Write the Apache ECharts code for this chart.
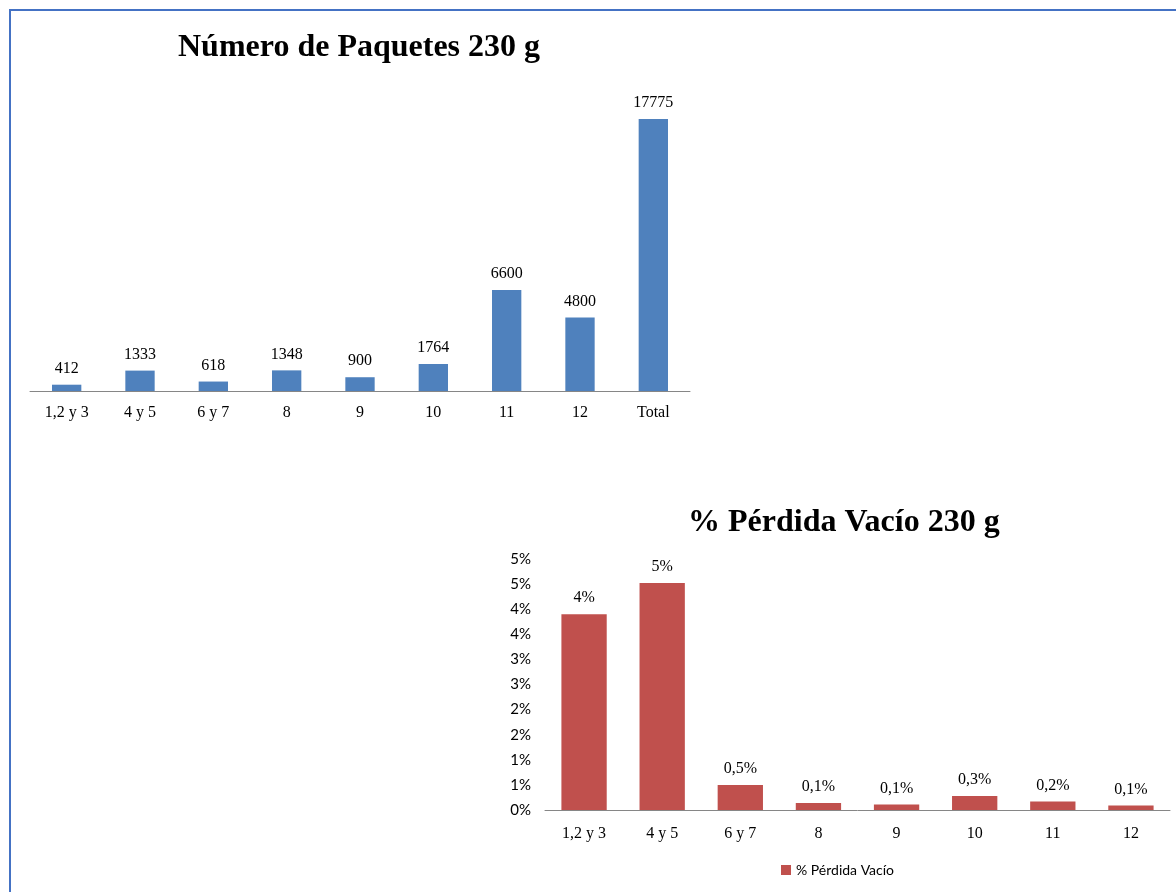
<!DOCTYPE html>
<html>
<head>
<meta charset="utf-8">
<script src="https://cdn.jsdelivr.net/npm/echarts@6/dist/echarts.min.js"></script>
<style>
  html, body { margin: 0; padding: 0; background: #fff; }
  #main { width: 1176px; height: 892px; }
</style>
</head>
<body>
<div id="main"></div>
<script>
// datos
var packCategories = ['1,2 y 3', '4 y 5', '6 y 7', '8', '9', '10', '11', '12', 'Total'];
var packValues = [412, 1333, 618, 1348, 900, 1764, 6600, 4800, 17775];

var lossCategories = ['1,2 y 3', '4 y 5', '6 y 7', '8', '9', '10', '11', '12'];
var lossValues = [3.9, 4.52, 0.5, 0.14, 0.11, 0.28, 0.17, 0.09];   // en %
var lossLabels = ['4%', '5%', '0,5%', '0,1%', '0,1%', '0,3%', '0,2%', '0,1%'];

(function(){

    var chart = echarts.init(document.getElementById('main'));

    var serif = '"Liberation Serif", "Times New Roman", serif';
    var sans = 'Lato, "Noto Sans", sans-serif';

    var option = {
        backgroundColor: '#fff',
        animation: false,
        title: [
            {
                text: 'Número de Paquetes 230 g',
                left: 173,
                top: 27,
                textStyle: { fontFamily: serif, fontSize: 32, fontWeight: 'bold', color: '#000' }
            },
            {
                text: '% Pérdida Vacío 230 g',
                left: 683,
                top: 502,
                textStyle: { fontFamily: serif, fontSize: 32, fontWeight: 'bold', color: '#000' }
            }
        ],
        legend: {
            data: [{ name: '% Pérdida Vacío', icon: 'rect' }],
            left: 776,
            top: 858,
            itemWidth: 10,
            itemHeight: 10,
            itemGap: 6,
            textStyle: { fontFamily: sans, fontSize: 14, color: '#000' }
        },
        grid: [
            { left: 30, right: 486, top: 119, bottom: 501 },
            { left: 545, right: 6, top: 559, bottom: 82 }
        ],
        xAxis: [
            {
                gridIndex: 0,
                type: 'category',
                data: packCategories,
                axisLine: { lineStyle: { color: '#868686', width: 1 } },
                axisTick: { show: false },
                axisLabel: { fontFamily: serif, fontSize: 16, color: '#000', margin: 14 }
            },
            {
                gridIndex: 1,
                type: 'category',
                data: lossCategories,
                axisLine: { lineStyle: { color: '#868686', width: 1 } },
                axisTick: { show: false },
                axisLabel: { fontFamily: serif, fontSize: 16, color: '#000', margin: 16 }
            }
        ],
        yAxis: [
            {
                gridIndex: 0,
                type: 'value',
                min: 0,
                max: 17775,
                show: false
            },
            {
                gridIndex: 1,
                type: 'value',
                min: 0,
                max: 5,
                interval: 0.5,
                axisLine: { show: false },
                axisTick: { show: false },
                splitLine: { show: false },
                axisLabel: {
                    fontFamily: sans,
                    fontSize: 15,
                    color: '#000',
                    margin: 14,
                    formatter: function (v) { return Math.round(v) + '%'; }
                }
            }
        ],
        graphic: [
            {
                type: 'polyline',
                shape: { points: [[10, 892], [10, 10], [1176, 10]] },
                style: { stroke: '#4472C4', lineWidth: 2, fill: null }
            }
        ],
        series: [
            {
                name: 'Número de Paquetes',
                type: 'bar',
                xAxisIndex: 0,
                yAxisIndex: 0,
                barWidth: '40%',
                data: packValues,
                itemStyle: { color: '#4F81BD' },
                label: {
                    show: true,
                    position: 'top',
                    distance: 8,
                    fontFamily: serif,
                    fontSize: 16,
                    color: '#000'
                }
            },
            {
                name: '% Pérdida Vacío',
                type: 'bar',
                xAxisIndex: 1,
                yAxisIndex: 1,
                barWidth: '58%',
                data: lossValues,
                itemStyle: { color: '#C0504D' },
                label: {
                    show: true,
                    position: 'top',
                    distance: 8,
                    fontFamily: serif,
                    fontSize: 16,
                    color: '#000',
                    formatter: function (p) { return lossLabels[p.dataIndex]; }
                }
            }
        ]
    };

    chart.setOption(option);
})();
</script>
</body>
</html>
